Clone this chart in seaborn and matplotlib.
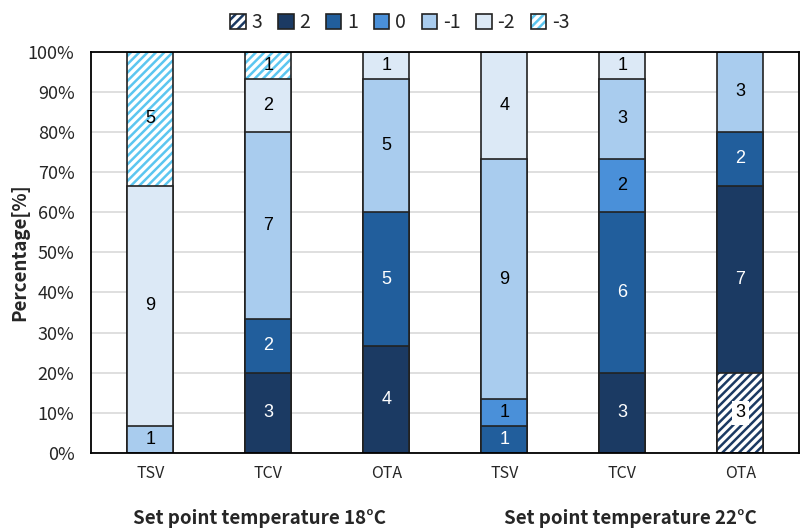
import numpy as np
import pandas as pd
import matplotlib
matplotlib.use("Agg")
import matplotlib.pyplot as plt
import seaborn as sns
from matplotlib.patches import Patch
from matplotlib.legend_handler import HandlerTuple

# ---- data ----
bars = ["TSV", "TCV", "OTA", "TSV ", "TCV ", "OTA "]
tick_labels = ["TSV", "TCV", "OTA", "TSV", "TCV", "OTA"]
groups = ["Set point temperature 18°C", "Set point temperature 22°C"]
levels = ["3", "2", "1", "0", "-1", "-2", "-3"]
counts = {
    "3":  [0, 0, 0, 0, 0, 3],
    "2":  [0, 3, 4, 0, 3, 7],
    "1":  [0, 2, 5, 1, 6, 2],
    "0":  [0, 0, 0, 1, 2, 0],
    "-1": [1, 7, 5, 9, 3, 3],
    "-2": [9, 2, 1, 4, 1, 0],
    "-3": [5, 1, 0, 0, 0, 0],
}

# ---- styles ----
face = {"3": "white", "2": "#1B3A63", "1": "#215E9C", "0": "#4A90D9",
        "-1": "#A9CCEE", "-2": "#DCE9F6", "-3": "white"}
hatchcol = {"3": "#1B3A63", "-3": "#5CC6F0"}
txtcol = {"3": "black", "2": "white", "1": "white", "0": "black",
          "-1": "black", "-2": "black", "-3": "black"}
EDGE = "#222222"
HATCH = "////"

sns.set_theme(style="white")
plt.rcParams["font.family"] = ["Noto Sans CJK KR", "DejaVu Sans"]
plt.rcParams["hatch.linewidth"] = 1.8

fig = plt.figure(figsize=(8, 5.29), dpi=100)
ax = fig.add_axes([0.114, 0.144, 0.885, 0.758])

tot = np.sum([counts[l] for l in levels], axis=0)
pct = {l: np.array(counts[l]) / tot * 100 for l in levels}
cum = np.cumsum([pct[l] for l in levels], axis=0)
bottoms = {l: cum[i] - pct[l] for i, l in enumerate(levels)}

W = 0.39
# draw cumulative bars from the top level downwards so lower ones cover
for i in range(len(levels) - 1, -1, -1):
    l = levels[i]
    top = cum[i]
    mask = np.array(counts[l]) > 0
    df = pd.DataFrame({"bar": bars, "val": np.where(mask, top, np.nan)})
    if l in hatchcol:
        sns.barplot(data=df, x="bar", y="val", order=bars, ax=ax,
                    color="white", width=W, edgecolor=hatchcol[l],
                    linewidth=0, hatch=HATCH, saturation=1, zorder=2)
        sns.barplot(data=df, x="bar", y="val", order=bars, ax=ax,
                    color=EDGE, fill=False, width=W,
                    linewidth=1.2, zorder=2)
    else:
        sns.barplot(data=df, x="bar", y="val", order=bars, ax=ax,
                    color=face[l], width=W, edgecolor=EDGE,
                    linewidth=1.2, saturation=1, zorder=2)

for l in levels:
    for j in range(len(bars)):
        c = counts[l][j]
        if c > 0:
            y = bottoms[l][j] + pct[l][j] / 2
            bbox = dict(facecolor="white", edgecolor="none", pad=2.5) if l == "3" else None
            ax.text(j, y, str(c), ha="center", va="center", fontsize=13,
                    color=txtcol[l], zorder=5, bbox=bbox,
                    family=["Liberation Sans", "DejaVu Sans"])

ax.set_xlim(-0.5, 5.5)
ax.set_ylim(0, 100)
ax.set_yticks(np.arange(0, 101, 10))
ax.set_yticklabels([f"{v}%" for v in range(0, 101, 10)], fontsize=13)
ax.set_xticks(range(6))
ax.set_xticklabels(tick_labels, fontsize=11.5)
ax.tick_params(axis="x", pad=9, length=0)
ax.tick_params(axis="y", pad=12, length=0)
ax.set_xlabel("")
ax.set_ylabel("Percentage[%]", fontsize=13.5, fontweight="bold")
ax.yaxis.set_label_coords(-0.088, 0.5)
ax.yaxis.grid(True, color="#D9D9D9", linewidth=1.2, zorder=0)
ax.set_axisbelow(True)
for s in ax.spines.values():
    s.set_visible(True)
    s.set_color("black")
    s.set_linewidth(1.3)

for gi, g in enumerate(groups):
    ax.text(0.93 + 3.14 * gi, -0.165, g, transform=ax.get_xaxis_transform(),
            ha="center", va="center", fontsize=13.5, fontweight="bold")

handles = []
for l in levels:
    if l in hatchcol:
        h = (Patch(facecolor="white", edgecolor=hatchcol[l], hatch=HATCH, linewidth=0),
             Patch(facecolor="none", edgecolor=EDGE, linewidth=1.2))
    else:
        h = Patch(facecolor=face[l], edgecolor=EDGE, linewidth=1.2)
    handles.append(h)
fig.legend(handles, levels, loc="upper center", bbox_to_anchor=(0.5, 1.01),
           ncol=7, frameon=False, fontsize=14, handlelength=0.8, handleheight=0.8,
           handletextpad=0.3, columnspacing=0.8,
           handler_map={tuple: HandlerTuple(ndivide=1, pad=0)})

fig.savefig("out.png", dpi=100)
